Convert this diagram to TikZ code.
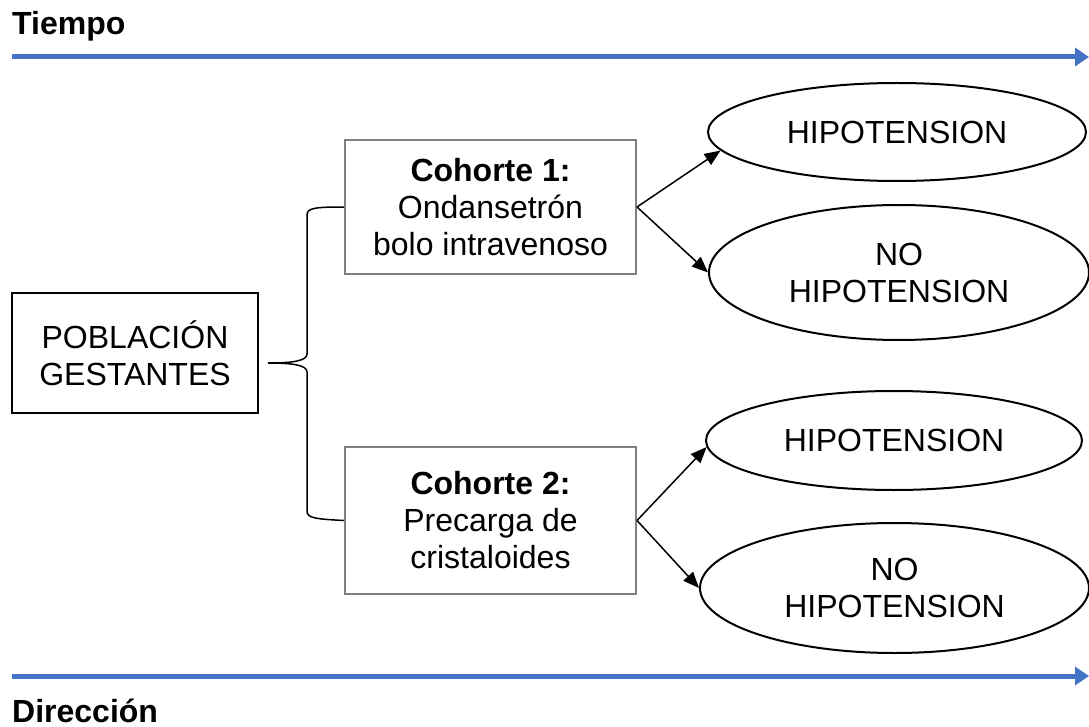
\documentclass[tikz,border=0pt]{standalone}
\usepackage{fontspec}
\setmainfont{Liberation Sans}
\usetikzlibrary{arrows.meta,shapes.geometric}
\definecolor{timeblue}{HTML}{4472C4}
\definecolor{boxgray}{HTML}{808080}
\tikzset{
  txt/.style={font=\fontsize{32}{37}\selectfont, align=center},
  popbox/.style={txt, draw=black, line width=2pt, rectangle, minimum width=246pt, minimum height=120pt, inner sep=0pt},
  cohbox/.style={txt, draw=boxgray, line width=2pt, rectangle, minimum width=291pt, inner sep=0pt},
  outc/.style={txt, draw=black, line width=2pt, ellipse, inner sep=0pt},
  flow/.style={draw=black, line width=1.5pt, -{Triangle[length=16pt,width=13pt]}},
  timeline/.style={draw=timeblue, line width=5pt, -{Triangle[length=14pt,width=18pt]}},
  brace/.style={draw=black, line width=1.5pt},
  label/.style={font=\fontsize{32}{37}\selectfont\bfseries, anchor=west, inner sep=0pt}
}
\begin{document}
\begin{tikzpicture}[x=1pt,y=-1pt]
\useasboundingbox (0,0) rectangle (1089,727);
% timelines
\node[label] (tiempo) at (12,26) {Tiempo};
\coordinate (t0) at (12,57);
\coordinate (t1) at (1089,57);
\draw[timeline] (t0) -- (t1);
\coordinate (d0) at (12,676);
\coordinate (d1) at (1089,676);
\draw[timeline] (d0) -- (d1);
\node[label] (direccion) at (12,711) {Dirección};
% population
\node[popbox] (pop) at (135,353) {POBLACIÓN\\GESTANTES};
% cohorts
\node[cohbox, minimum height=134pt] (c1) at (490.5,207) {\textbf{Cohorte 1:}\\Ondansetrón\\bolo intravenoso};
\node[cohbox, minimum height=147pt] (c2) at (490.5,520.5) {\textbf{Cohorte 2:}\\Precarga de\\cristaloides};
% outcomes
\node[outc, minimum width=378pt, minimum height=98pt] (e1) at (897,132) {HIPOTENSION};
\node[outc, minimum width=380pt, minimum height=135pt] (e2) at (899,272.5) {NO\\HIPOTENSION};
\node[outc, minimum width=376pt, minimum height=99pt] (e3) at (894,440.5) {HIPOTENSION};
\node[outc, minimum width=389pt, minimum height=130pt] (e4) at (894.5,588) {NO\\HIPOTENSION};
% brace
\coordinate (tip) at (268,363);
\draw[brace] (c1.west) .. controls (315,207) and (307,208) .. (307,215)
  -- (307,354) .. controls (307,361) and (292,363) .. (tip)
  .. controls (292,363) and (307,365) .. (307,372)
  -- (307,511) .. controls (307,518) and (315,519) .. (c2.west);
% arrows
\draw[flow] (c1.east) -- (e1.186);
\draw[flow] (c1.east) -- (e2.west);
\draw[flow] (c2.east) -- (e3.182);
\draw[flow] (c2.east) -- (e4.west);
\end{tikzpicture}
\end{document}
